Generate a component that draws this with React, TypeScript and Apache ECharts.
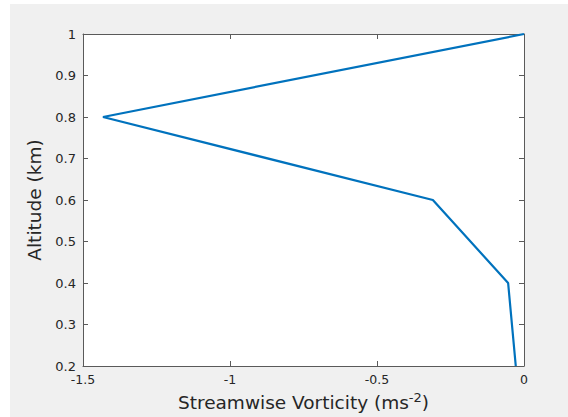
import React, { useEffect, useRef } from "react";
import * as echarts from "echarts";

const vorticity = [0, -1.432, -0.31, -0.054, -0.028];
const altitude = [1, 0.8, 0.6, 0.4, 0.2];
const xTicks = [-1.5, -1, -0.5, 0];
const yTicks = [0.2, 0.3, 0.4, 0.5, 0.6, 0.7, 0.8, 0.9, 1];

const FONT = "DejaVu Sans";
const AX = "#262626";
const LINE = "#5a5a5a";

const axisLine = () => ({ show: true, onZero: false, lineStyle: { color: LINE, width: 1 } });
const axisTick = () => ({ show: true, inside: true, length: 5, lineStyle: { color: LINE, width: 1 } });

export default function App() {
  const ref = useRef<HTMLDivElement>(null);
  useEffect(() => {
    const chart = echarts.init(ref.current!, undefined, { renderer: "svg" });
    chart.setOption({
      animation: false,
      backgroundColor: "#ffffff",
      graphic: [
        {
          type: "rect",
          z: -10,
          silent: true,
          shape: { x: 10, y: 4, width: 568, height: 417 },
          style: { fill: "#f0f0f0" },
        },
      ],
      grid: { left: 83, top: 34, right: 44, bottom: 51, outerBoundsMode: "none", containLabel: false, backgroundColor: "#ffffff", show: true, borderWidth: 0 },
      xAxis: [
        {
          type: "value",
          position: "bottom",
          min: -1.5,
          max: 0,
          interval: 0.5,
          axisLine: axisLine(),
          axisTick: axisTick(),
          splitLine: { show: false },
          axisLabel: {
            color: AX,
            fontFamily: FONT,
            fontSize: 12.5,
            margin: 7,
            formatter: (v: number) => (xTicks.includes(v) ? String(v) : ""),
          },
          name: "Streamwise Vorticity (ms{sup|-2})",
          nameLocation: "middle",
          nameGap: 24,
          nameTextStyle: {
            color: AX,
            fontFamily: FONT,
            fontSize: 18.5,
            rich: {
              sup: { fontSize: 13, fontFamily: FONT, color: AX, verticalAlign: "top", padding: [0, 0, 10, 0] },
            },
          },
        },
        {
          type: "value",
          position: "top",
          min: -1.5,
          max: 0,
          interval: 0.5,
          axisLine: axisLine(),
          axisTick: axisTick(),
          splitLine: { show: false },
          axisLabel: { show: false },
        },
      ],
      yAxis: [
        {
          type: "value",
          position: "left",
          min: 0.2,
          max: 1,
          interval: 0.1,
          axisLine: axisLine(),
          axisTick: axisTick(),
          splitLine: { show: false },
          axisLabel: {
            color: AX,
            fontFamily: FONT,
            fontSize: 13,
            margin: 7,
            formatter: (v: number) => {
              const r = Math.round(v * 10) / 10;
              return yTicks.includes(r) ? String(r) : "";
            },
          },
          name: "Altitude (km)",
          nameLocation: "middle",
          nameGap: 23,
          nameTextStyle: { color: AX, fontFamily: FONT, fontSize: 18.5 },
        },
        {
          type: "value",
          position: "right",
          min: 0.2,
          max: 1,
          interval: 0.1,
          axisLine: axisLine(),
          axisTick: axisTick(),
          splitLine: { show: false },
          axisLabel: { show: false },
        },
      ],
      series: [
        {
          type: "line",
          data: vorticity.map((v, i) => [v, altitude[i]]),
          showSymbol: false,
          symbol: "none",
          lineStyle: { color: "#0072BD", width: 2.2 },
          clip: false,
        },
      ],
    });
    return () => chart.dispose();
  }, []);
  return <div ref={ref} style={{ position: "absolute", left: 0, top: 0, width: 568, height: 417 }} />;
}
